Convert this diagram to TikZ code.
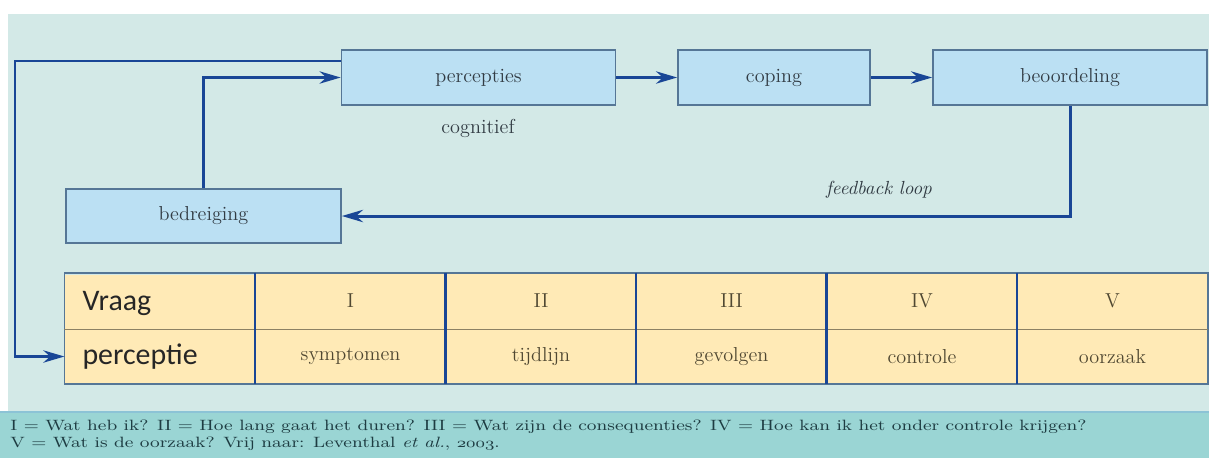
\documentclass[tikz,border=0pt]{standalone}
\usepackage{fontspec}
\usepackage{graphicx}
\newfontfamily\carlitofont{Carlito}
\usetikzlibrary{arrows.meta}
\definecolor{achter}{RGB}{211,233,231}
\definecolor{voet}{RGB}{154,213,212}
\definecolor{voetlijn}{RGB}{140,195,214}
\definecolor{blok}{RGB}{187,224,243}
\definecolor{rand}{RGB}{85,118,150}
\definecolor{pijl}{RGB}{25,70,150}
\definecolor{tabel}{RGB}{255,234,182}
\definecolor{tekst}{RGB}{50,60,68}
\definecolor{tabtekst}{RGB}{80,72,50}
\definecolor{voettekst}{RGB}{30,60,66}
\begin{document}
\begin{tikzpicture}[x=0.02cm,y=-0.02cm,
  blokje/.style={draw=rand,line width=1pt,fill=blok,minimum height=1.1cm,text=tekst,font=\fontsize{11.5}{13}\selectfont},
  pijltje/.style={draw=pijl,line width=1.7pt,-{Stealth[length=12pt,width=7pt]}},
  cel/.style={fill=tabel,minimum width=3.81cm,inner sep=0pt,text=tabtekst,font=\fontsize{11.5}{13}\selectfont},
  kop/.style={cel,text width=3.1cm,align=left,text=black!85,font=\carlitofont\fontsize{17}{19}\selectfont}]
\useasboundingbox (0,0) rectangle (1209,458);
\fill[white] (0,0) rectangle (1209,458);
\fill[achter] (8,14) rectangle (1209,412);
\fill[voet] (0,412) rectangle (1209,458);
\draw[line width=1pt,color=voetlijn] (0,412) -- (1209,412);
% blokken
\node[blokje,minimum width=5.48cm] (percep) at (478.5,77.5) {percepties};
\node[blokje,minimum width=3.84cm] (coping) at (774,77.5) {coping};
\node[blokje,minimum width=5.48cm] (beoord) at (1070,77.5) {beoordeling};
\node[blokje,minimum width=5.5cm,minimum height=1.08cm] (bedreig) at (203.5,216) {bedreiging};
\node[text=tekst,font=\fontsize{11.5}{13}\selectfont] (cogn) at (478,128) {cognitief};
\node[text=tekst,font=\fontsize{10.8}{13}\selectfont\itshape] (fb) at (879,190) {feedback loop};
% tabel
\node[kop,minimum height=1.12cm] (r0) at (160,303) {Vraag};
\node[kop,minimum height=1.1cm] (p0) at (160,356.5) {perceptie};
\foreach \i/\rom/\woord in {1/I/symptomen,2/II/tijdlijn,3/III/gevolgen,4/IV/controle,5/V/oorzaak}{
  \node[cel,minimum height=1.12cm] (r\i) at ({160+190.5*\i},301) {\rom};
  \node[cel,minimum height=1.1cm] (p\i) at ({160+190.5*\i},356.5) {\woord};
}
\draw[rand,line width=1pt] (r1.north west -| r0.west) rectangle (p5.south east);
\draw[line width=0.8pt,color=black!45!tabel] (r1.south west -| r0.west) -- (r5.south east);
\foreach \i in {1,...,5}
  \draw[pijl,line width=1.6pt] (r\i.north west) -- (p\i.south west);
% pijlen
\coordinate (hoek) at (15,61);
\draw[pijltje] (bedreig.north) |- (percep.west);
\draw[pijltje] (percep) -- (coping);
\draw[pijltje] (coping) -- (beoord);
\draw[pijltje] (beoord.south) |- (bedreig.east);
\draw[pijltje,line width=1.5pt] (percep.west |- hoek) -- (hoek) |- (p0.west);
% bron
\node[anchor=north west,align=left,inner sep=0pt,text=voettekst,font=\fontsize{8.5}{9.5}\selectfont] (bron) at (10,420)
  {\scalebox{1.26}[1]{I = Wat heb ik? II = Hoe lang gaat het duren? III = Wat zijn de consequenties? IV = Hoe kan ik het onder controle krijgen?}\\
   \scalebox{1.26}[1]{V = Wat is de oorzaak? Vrij naar: Leventhal \emph{et al.}, $\mathnormal{2003}$.}};
\end{tikzpicture}
\end{document}
